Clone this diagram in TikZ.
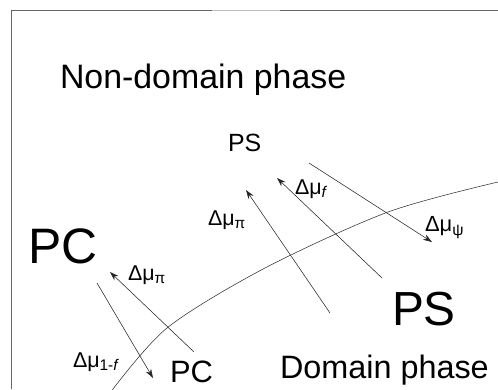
\documentclass[tikz,border=0pt]{standalone}
\usepackage{fontspec}
\setmainfont{Liberation Sans}
\usetikzlibrary{arrows.meta}
\newcommand{\mysub}[1]{\raisebox{-0.35ex}{\scalebox{0.72}{#1}}}
\begin{document}
\begin{tikzpicture}[x=1bp,y=-1bp,
  lbl/.style={anchor=base west,inner sep=0pt,outer sep=0pt},
  frameline/.style={draw=black!60,line width=0.9bp},
  flux/.style={draw=black!85,line width=0.55bp,-{Stealth[length=9bp,width=6bp]}},
  bound/.style={draw=black!80,line width=0.55bp}]
\useasboundingbox (0,0) rectangle (498,389);
% frame
\draw[frameline] (11,389) -- (11,10.5) -- (212,10.5);
\draw[draw=black!25,line width=0.9bp] (212,10.5) -- (280,10.5);
\draw[frameline] (280,10.5) -- (498,10.5);
% boundary curve
\draw[bound] plot[smooth] coordinates {(110,393) (167,328) (265,268) (388,212) (498,182)};
% texts
\node[lbl,font=\fontsize{34}{34}\selectfont] (nd) at (60,88) {Non-domain phase};
\node[lbl,font=\fontsize{25}{25}\selectfont] (ps1) at (228,151) {PS};
\node[lbl,font=\fontsize{50}{50}\selectfont] (pc1) at (28,263) {PC};
\node[lbl,font=\fontsize{31}{31}\selectfont] (pc2) at (170,382) {PC};
\node[lbl,font=\fontsize{48}{48}\selectfont] (ps2) at (392,325) {PS};
\node[lbl,font=\fontsize{32.5}{32.5}\selectfont] (dp) at (280,378) {Domain phase};
\node[lbl,font=\fontsize{21.5}{21.5}\selectfont] (l1) at (128,280) {Δμ\mysub{π}};
\node[lbl,font=\fontsize{21.5}{21.5}\selectfont] (l2) at (208,225) {Δμ\mysub{π}};
\node[lbl,font=\fontsize{21.5}{21.5}\selectfont] (l3) at (295,194) {Δμ\mysub{\itshape f}};
\node[lbl,font=\fontsize{22}{22}\selectfont] (l4) at (425,231) {Δμ\mysub{ψ}};
\node[lbl,font=\fontsize{21.5}{21.5}\selectfont] (l5) at (73,367) {Δμ\mysub{1-\itshape f}};
% arrow endpoints
\coordinate (a1s) at (97,283);  \coordinate (a1e) at (153,378);
\coordinate (a2s) at (194,352); \coordinate (a2e) at (110,272);
\coordinate (a3s) at (330,313); \coordinate (a3e) at (246,190);
\coordinate (a4s) at (382,278); \coordinate (a4e) at (277,178);
\coordinate (a5s) at (309,163); \coordinate (a5e) at (432,242);
\draw[flux] (a1s) -- (a1e);
\draw[flux] (a2s) -- (a2e);
\draw[flux] (a3s) -- (a3e);
\draw[flux] (a4s) -- (a4e);
\draw[flux] (a5s) -- (a5e);
\end{tikzpicture}
\end{document}
